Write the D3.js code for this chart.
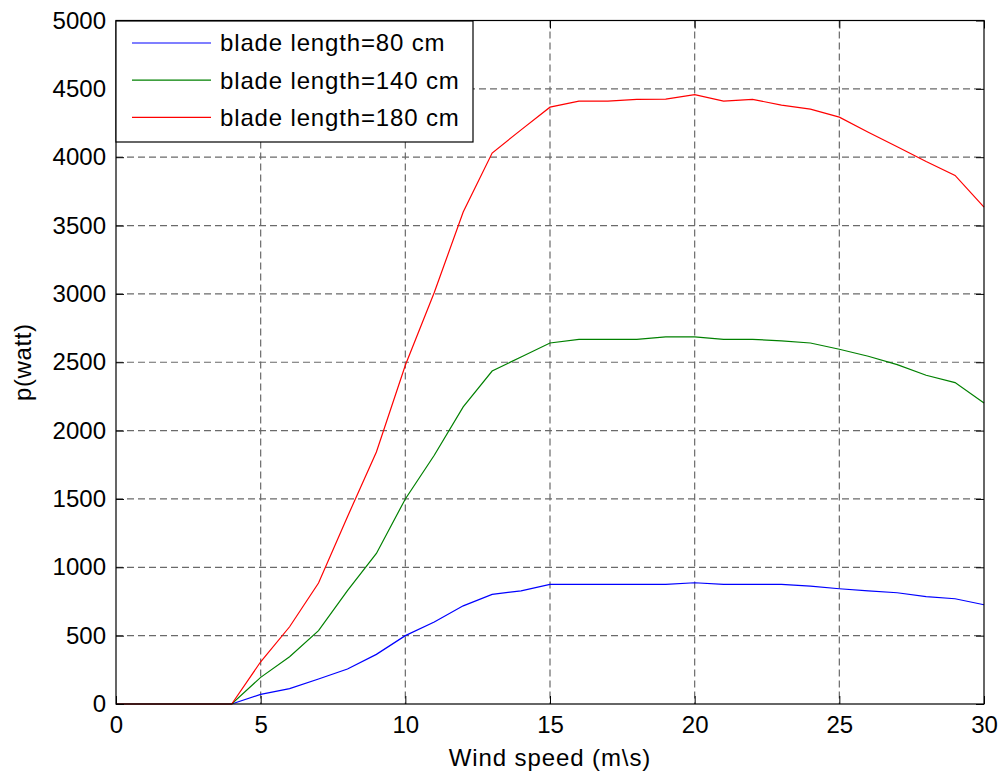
<!DOCTYPE html>
<html>
<head>
<meta charset="utf-8">
<script src="https://cdn.jsdelivr.net/npm/d3@7"></script>
<style>
  body { margin: 0; background: #fff; }
  text { font-family: "Liberation Sans", Arial, sans-serif; }
</style>
</head>
<body>
<div class="vis"></div>
<script>
// wind speed (m/s)
const windSpeed = [0, 1, 2, 3, 4, 5, 6, 7, 8, 9, 10, 11, 12, 13, 14, 15, 16, 17, 18, 19, 20,
                   21, 22, 23, 24, 25, 26, 27, 28, 29, 30];

// power (watt) per blade length
const blade80 = [0, 0, 0, 0, 0, 70, 112, 183, 256, 363, 500, 600, 718, 802, 828, 875, 875, 875, 875, 875, 887,
                 875, 875, 875, 862, 843, 828, 814, 785, 770, 726];
const blade140 = [0, 0, 0, 0, 0, 195, 346, 537, 830, 1101, 1500, 1820, 2173, 2436, 2539, 2641, 2668, 2668, 2668, 2685, 2685,
                  2668, 2668, 2656, 2641, 2595, 2544, 2483, 2405, 2351, 2202];
const blade180 = [0, 0, 0, 0, 0, 309, 565, 885, 1370, 1844, 2478, 3010, 3599, 4030, 4200, 4366, 4410, 4410, 4423, 4425, 4457,
                  4410, 4423, 4381, 4352, 4293, 4183, 4077, 3969, 3867, 3635];

const seriesNames = ["blade length=80 cm", "blade length=140 cm", "blade length=180 cm"];
const seriesColors = ["#0000ff", "#008000", "#ff0000"];
const seriesValues = [blade80, blade140, blade180];

const xTicks = [0, 5, 10, 15, 20, 25, 30];
const yTicks = [0, 500, 1000, 1500, 2000, 2500, 3000, 3500, 4000, 4500, 5000];

const margin = { top: 20.5, right: 18, bottom: 74, left: 116 };
const W = 1002, H = 778;
const width = W - margin.left - margin.right,
      height = H - margin.top - margin.bottom;

const svg = d3.select(".vis")
    .append("svg")
    .attr("width", W)
    .attr("height", H);

const g = svg.append("g")
    .attr("transform", "translate(" + margin.left + "," + margin.top + ")");

const x = d3.scaleLinear().domain([0, 30]).range([0, width]);
const y = d3.scaleLinear().domain([0, 5000]).range([height, 0]);

// grid
const gridStyle = sel => sel
    .attr("stroke", "#6a6a6a")
    .attr("stroke-width", 1.2)
    .attr("stroke-dasharray", "7,4");

g.append("g").selectAll("line")
    .data(xTicks.slice(1, -1))
    .join("line")
    .attr("x1", d => x(d)).attr("x2", d => x(d))
    .attr("y1", 0).attr("y2", height)
    .call(gridStyle);

g.append("g").selectAll("line")
    .data(yTicks.slice(1, -1))
    .join("line")
    .attr("x1", 0).attr("x2", width)
    .attr("y1", d => y(d)).attr("y2", d => y(d))
    .call(gridStyle);

// lines
const line = d3.line()
    .x((d, i) => x(windSpeed[i]))
    .y(d => y(d));

seriesValues.forEach((vals, k) => {
    g.append("path")
        .datum(vals)
        .attr("fill", "none")
        .attr("stroke", seriesColors[k])
        .attr("stroke-width", 1.2)
        .attr("d", line);
});

// axes, matlab style ticks inside
const fontSize = 24;
const styleAxis = sel => {
    sel.select(".domain").remove();
    sel.selectAll(".tick line").attr("stroke", "#000");
    sel.selectAll(".tick text")
        .attr("fill", "#000")
        .style("font-size", fontSize + "px")
        .style("font-family", '"Liberation Sans", Arial, sans-serif');
};

g.append("g")
    .attr("transform", "translate(0," + height + ")")
    .call(d3.axisBottom(x).tickValues(xTicks).tickFormat(d3.format("d"))
        .tickSizeInner(-8).tickSizeOuter(0).tickPadding(12))
    .call(styleAxis);

g.append("g")
    .call(d3.axisTop(x).tickValues(xTicks).tickSizeInner(-8).tickSizeOuter(0).tickFormat(""))
    .call(styleAxis);

g.append("g")
    .call(d3.axisLeft(y).tickValues(yTicks).tickFormat(d3.format("d"))
        .tickSizeInner(-8).tickSizeOuter(0).tickPadding(10))
    .call(styleAxis);

g.append("g")
    .attr("transform", "translate(" + width + ",0)")
    .call(d3.axisRight(y).tickValues(yTicks).tickSizeInner(-8).tickSizeOuter(0).tickFormat(""))
    .call(styleAxis);

// axes box
g.append("rect")
    .attr("x", 0).attr("y", 0)
    .attr("width", width).attr("height", height)
    .attr("fill", "none")
    .attr("stroke", "#000")
    .attr("stroke-width", 1.2);

// axis labels
svg.append("text")
    .attr("x", margin.left + width / 2)
    .attr("y", 766)
    .attr("text-anchor", "middle")
    .style("font-size", fontSize + "px")
    .style("letter-spacing", "0.9px")
    .text("Wind speed (m\\s)");

svg.append("text")
    .attr("transform", "translate(31," + (margin.top + height / 2) + ") rotate(-90)")
    .attr("text-anchor", "middle")
    .style("font-size", fontSize + "px")
    .style("letter-spacing", "0.6px")
    .text("p(watt)");

// legend
const legend = svg.append("g").attr("transform", "translate(116,21)");
legend.append("rect")
    .attr("width", 357).attr("height", 121)
    .attr("fill", "#fff")
    .attr("stroke", "#000")
    .attr("stroke-width", 1.2);

seriesNames.forEach((name, k) => {
    const ly = 22 + k * 37.2;
    legend.append("line")
        .attr("x1", 16).attr("x2", 95)
        .attr("y1", ly).attr("y2", ly)
        .attr("stroke", seriesColors[k])
        .attr("stroke-width", 1.2);
    legend.append("text")
        .attr("x", 104).attr("y", ly)
        .attr("dy", "0.35em")
        .style("font-size", fontSize + "px")
        .style("letter-spacing", "0.85px")
        .text(name);
});
</script>
</body>
</html>
